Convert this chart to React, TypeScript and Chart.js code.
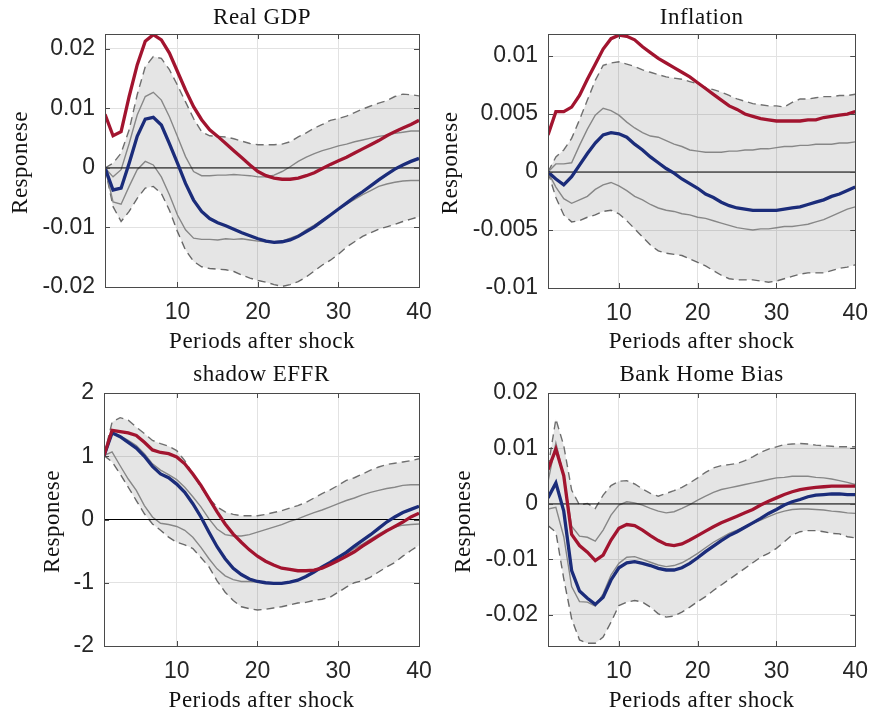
import React, { useEffect, useRef } from "react";
import { Chart, registerables } from "chart.js";

Chart.register(...registerables);

// ---------- data ----------
const periods = [
  1, 2, 3, 4, 5, 6, 7, 8, 9, 10, 11, 12, 13, 14, 15, 16, 17, 18, 19, 20,
  21, 22, 23, 24, 25, 26, 27, 28, 29, 30, 31, 32, 33, 34, 35, 36, 37, 38, 39, 40,
];
const xTicks = [10, 20, 30, 40];

// Real GDP
const gdpRed = [0.0090, 0.0054, 0.0061, 0.0120, 0.0173, 0.0213, 0.0224, 0.0215, 0.0193, 0.0162, 0.0131, 0.0103, 0.0081, 0.0064, 0.0053, 0.0041, 0.0029, 0.0017, 0.0005, -0.0006, -0.0013, -0.0017, -0.0019, -0.0019, -0.0017, -0.0013, -0.0008, -0.0001, 0.0006, 0.0012, 0.0018, 0.0025, 0.0032, 0.0039, 0.0046, 0.0054, 0.0061, 0.0067, 0.0073, 0.0080];
const gdpBlue = [0, -0.0037, -0.0034, 0.0008, 0.0053, 0.0082, 0.0085, 0.0072, 0.0041, 0.0008, -0.0026, -0.0054, -0.0073, -0.0085, -0.0092, -0.0097, -0.0103, -0.0109, -0.0114, -0.0119, -0.0123, -0.0125, -0.0124, -0.0121, -0.0115, -0.0107, -0.0099, -0.0089, -0.0079, -0.0069, -0.0059, -0.0049, -0.0040, -0.0030, -0.0020, -0.0011, -0.0002, 0.0005, 0.0011, 0.0016];
const gdpHi90 = [0, 0.0008, 0.0025, 0.0064, 0.0123, 0.0170, 0.0187, 0.0184, 0.0165, 0.0139, 0.0111, 0.0083, 0.0061, 0.0054, 0.0053, 0.0052, 0.0049, 0.0045, 0.0041, 0.0039, 0.0039, 0.0039, 0.0040, 0.0044, 0.0052, 0.0059, 0.0067, 0.0073, 0.0080, 0.0083, 0.0087, 0.0093, 0.0099, 0.0104, 0.0109, 0.0113, 0.0120, 0.0124, 0.0123, 0.0121];
const gdpHi68 = [0, -0.0015, -0.0003, 0.0041, 0.0089, 0.0120, 0.0127, 0.0114, 0.0086, 0.0053, 0.0019, -0.0006, -0.0013, -0.0013, -0.0012, -0.0012, -0.0011, -0.0012, -0.0013, -0.0015, -0.0015, -0.0012, -0.0006, 0.0002, 0.0011, 0.0018, 0.0024, 0.0029, 0.0033, 0.0037, 0.0040, 0.0044, 0.0047, 0.0050, 0.0053, 0.0055, 0.0058, 0.0060, 0.0062, 0.0062];
const gdpLo68 = [0, -0.0057, -0.0061, -0.0031, -0.0003, 0.0011, 0.0005, -0.0015, -0.0045, -0.0079, -0.0104, -0.0118, -0.0120, -0.0120, -0.0121, -0.0119, -0.0120, -0.0119, -0.0121, -0.0123, -0.0124, -0.0124, -0.0123, -0.0118, -0.0113, -0.0104, -0.0096, -0.0087, -0.0079, -0.0069, -0.0061, -0.0053, -0.0045, -0.0038, -0.0031, -0.0027, -0.0024, -0.0022, -0.0021, -0.0021];
const gdpLo90 = [0, -0.0065, -0.0090, -0.0073, -0.0051, -0.0034, -0.0031, -0.0043, -0.0071, -0.0107, -0.0138, -0.0157, -0.0166, -0.0169, -0.0170, -0.0171, -0.0174, -0.0180, -0.0185, -0.0189, -0.0192, -0.0196, -0.0199, -0.0196, -0.0191, -0.0183, -0.0173, -0.0163, -0.0155, -0.0145, -0.0133, -0.0124, -0.0115, -0.0109, -0.0103, -0.0099, -0.0095, -0.0090, -0.0086, -0.0082];
const gdpTicks = [-0.02, -0.01, 0, 0.01, 0.02];
const gdpTickLabels = ["-0.02", "-0.01", "0", "0.01", "0.02"];

// Inflation
const infRed = [0.0032, 0.0052, 0.0052, 0.0056, 0.0066, 0.0080, 0.0093, 0.0106, 0.0115, 0.0118, 0.0117, 0.0114, 0.0108, 0.0103, 0.0098, 0.0094, 0.0090, 0.0086, 0.0082, 0.0077, 0.0072, 0.0067, 0.0062, 0.0057, 0.0054, 0.0050, 0.0048, 0.0046, 0.0045, 0.0044, 0.0044, 0.0044, 0.0044, 0.0045, 0.0045, 0.0047, 0.0048, 0.0049, 0.0050, 0.0052];
const infBlue = [0, -0.0006, -0.0011, -0.0004, 0.0006, 0.0016, 0.0025, 0.0032, 0.0034, 0.0033, 0.0030, 0.0024, 0.0019, 0.0013, 0.0008, 0.0003, -0.0001, -0.0006, -0.0010, -0.0014, -0.0019, -0.0022, -0.0026, -0.0029, -0.0031, -0.0032, -0.0033, -0.0033, -0.0033, -0.0033, -0.0032, -0.0031, -0.0030, -0.0028, -0.0026, -0.0024, -0.0021, -0.0019, -0.0016, -0.0013];
const infHi90 = [0, 0.0013, 0.0019, 0.0029, 0.0045, 0.0062, 0.0079, 0.0092, 0.0094, 0.0095, 0.0093, 0.0091, 0.0088, 0.0086, 0.0084, 0.0082, 0.0081, 0.0080, 0.0078, 0.0076, 0.0073, 0.0071, 0.0069, 0.0066, 0.0063, 0.0061, 0.0059, 0.0058, 0.0057, 0.0057, 0.0056, 0.0060, 0.0063, 0.0063, 0.0064, 0.0065, 0.0065, 0.0066, 0.0066, 0.0067];
const infHi68 = [0, 0.0007, 0.0007, 0.0008, 0.0023, 0.0037, 0.0049, 0.0055, 0.0053, 0.0049, 0.0043, 0.0038, 0.0034, 0.0031, 0.0030, 0.0027, 0.0024, 0.0022, 0.0019, 0.0018, 0.0017, 0.0017, 0.0017, 0.0018, 0.0018, 0.0019, 0.0019, 0.0020, 0.0020, 0.0021, 0.0022, 0.0022, 0.0023, 0.0023, 0.0024, 0.0024, 0.0024, 0.0025, 0.0025, 0.0026];
const infLo68 = [0, -0.0013, -0.0023, -0.0027, -0.0024, -0.0021, -0.0015, -0.0011, -0.0009, -0.0012, -0.0016, -0.0021, -0.0024, -0.0028, -0.0031, -0.0033, -0.0034, -0.0036, -0.0037, -0.0039, -0.0040, -0.0042, -0.0044, -0.0046, -0.0048, -0.0049, -0.0050, -0.0049, -0.0049, -0.0048, -0.0047, -0.0047, -0.0046, -0.0045, -0.0043, -0.0041, -0.0038, -0.0035, -0.0032, -0.0030];
const infLo90 = [0, -0.0022, -0.0037, -0.0043, -0.0042, -0.0039, -0.0037, -0.0034, -0.0033, -0.0036, -0.0042, -0.0049, -0.0056, -0.0063, -0.0068, -0.0070, -0.0071, -0.0072, -0.0075, -0.0078, -0.0081, -0.0085, -0.0089, -0.0092, -0.0093, -0.0093, -0.0093, -0.0094, -0.0095, -0.0094, -0.0092, -0.0090, -0.0088, -0.0087, -0.0087, -0.0087, -0.0085, -0.0083, -0.0082, -0.0080];
const infTicks = [-0.01, -0.005, 0, 0.005, 0.01];
const infTickLabels = ["-0.01", "-0.005", "0", "0.005", "0.01"];

// shadow EFFR
const effrRed = [1.01, 1.41, 1.39, 1.37, 1.33, 1.22, 1.10, 1.06, 1.04, 0.99, 0.88, 0.72, 0.54, 0.33, 0.12, -0.07, -0.23, -0.36, -0.48, -0.58, -0.66, -0.72, -0.77, -0.79, -0.81, -0.81, -0.80, -0.77, -0.71, -0.65, -0.58, -0.51, -0.42, -0.34, -0.26, -0.18, -0.11, -0.04, 0.04, 0.10];
const effrBlue = [1.01, 1.37, 1.31, 1.22, 1.13, 1.00, 0.84, 0.72, 0.66, 0.56, 0.43, 0.25, 0.04, -0.20, -0.43, -0.62, -0.77, -0.87, -0.94, -0.98, -1.00, -1.01, -1.01, -0.99, -0.96, -0.90, -0.83, -0.75, -0.68, -0.60, -0.52, -0.42, -0.33, -0.24, -0.14, -0.04, 0.04, 0.11, 0.16, 0.21];
const effrHi90 = [1.01, 1.54, 1.61, 1.57, 1.46, 1.36, 1.25, 1.20, 1.16, 1.09, 0.93, 0.72, 0.51, 0.33, 0.20, 0.12, 0.08, 0.06, 0.06, 0.06, 0.08, 0.11, 0.14, 0.18, 0.22, 0.27, 0.34, 0.41, 0.47, 0.54, 0.62, 0.66, 0.72, 0.78, 0.83, 0.87, 0.89, 0.91, 0.93, 0.96];
const effrHi68 = [1.01, 1.36, 1.32, 1.25, 1.17, 1.04, 0.88, 0.78, 0.71, 0.63, 0.51, 0.36, 0.20, 0.01, -0.15, -0.24, -0.26, -0.26, -0.24, -0.20, -0.16, -0.12, -0.08, -0.03, 0.01, 0.06, 0.11, 0.15, 0.20, 0.25, 0.30, 0.34, 0.39, 0.43, 0.46, 0.49, 0.51, 0.54, 0.55, 0.55];
const effrLo68 = [1.01, 1.07, 0.85, 0.64, 0.46, 0.22, 0.04, -0.06, -0.08, -0.11, -0.17, -0.28, -0.44, -0.62, -0.78, -0.89, -0.95, -0.98, -0.98, -0.99, -1.00, -1.01, -1.00, -0.99, -0.96, -0.90, -0.83, -0.75, -0.69, -0.61, -0.54, -0.46, -0.39, -0.31, -0.23, -0.16, -0.12, -0.09, -0.08, -0.07];
const effrLo90 = [1.01, 0.91, 0.72, 0.51, 0.30, 0.09, -0.07, -0.17, -0.28, -0.36, -0.40, -0.46, -0.60, -0.75, -0.97, -1.15, -1.28, -1.38, -1.41, -1.43, -1.42, -1.40, -1.38, -1.35, -1.32, -1.31, -1.28, -1.26, -1.23, -1.15, -1.07, -1.00, -0.97, -0.91, -0.83, -0.75, -0.68, -0.58, -0.49, -0.41];
const effrTicks = [-2, -1, 0, 1, 2];
const effrTickLabels = ["-2", "-1", "0", "1", "2"];

// Bank Home Bias
const bhbRed = [0.0062, 0.0099, 0.0051, -0.0055, -0.0075, -0.0087, -0.0102, -0.0092, -0.0065, -0.0044, -0.0037, -0.0039, -0.0047, -0.0057, -0.0066, -0.0073, -0.0075, -0.0072, -0.0065, -0.0057, -0.0049, -0.0041, -0.0034, -0.0028, -0.0022, -0.0016, -0.0010, -0.0002, 0.0005, 0.0011, 0.0017, 0.0022, 0.0026, 0.0028, 0.0030, 0.0031, 0.0032, 0.0032, 0.0032, 0.0032];
const bhbBlue = [0.0011, 0.0038, -0.0013, -0.0120, -0.0157, -0.0170, -0.0181, -0.0168, -0.0137, -0.0115, -0.0106, -0.0104, -0.0107, -0.0111, -0.0116, -0.0119, -0.0119, -0.0115, -0.0107, -0.0097, -0.0086, -0.0076, -0.0066, -0.0057, -0.0050, -0.0042, -0.0034, -0.0026, -0.0017, -0.0010, -0.0002, 0.0004, 0.0008, 0.0013, 0.0016, 0.0017, 0.0018, 0.0018, 0.0017, 0.0017];
const bhbHi90 = [0.0065, 0.0153, 0.0105, 0.0025, -0.0002, 0.0001, -0.0008, 0.0016, 0.0033, 0.0041, 0.0042, 0.0036, 0.0027, 0.0019, 0.0014, 0.0019, 0.0024, 0.0030, 0.0038, 0.0047, 0.0057, 0.0065, 0.0069, 0.0071, 0.0073, 0.0078, 0.0085, 0.0093, 0.0099, 0.0103, 0.0107, 0.0108, 0.0109, 0.0108, 0.0106, 0.0105, 0.0104, 0.0103, 0.0103, 0.0103];
const bhbHi68 = [0.0040, 0.0110, 0.0050, -0.0040, -0.0058, -0.0060, -0.0067, -0.0047, -0.0020, -0.0002, 0.0004, 0.0002, -0.0002, -0.0008, -0.0013, -0.0016, -0.0014, -0.0008, -0.0001, 0.0007, 0.0014, 0.0021, 0.0026, 0.0029, 0.0032, 0.0035, 0.0038, 0.0041, 0.0044, 0.0047, 0.0048, 0.0050, 0.0050, 0.0050, 0.0048, 0.0047, 0.0045, 0.0042, 0.0039, 0.0035];
const bhbLo68 = [-0.0009, -0.0006, -0.0059, -0.0149, -0.0176, -0.0177, -0.0184, -0.0162, -0.0128, -0.0107, -0.0096, -0.0095, -0.0100, -0.0105, -0.0110, -0.0113, -0.0111, -0.0106, -0.0098, -0.0089, -0.0079, -0.0069, -0.0061, -0.0053, -0.0047, -0.0041, -0.0035, -0.0029, -0.0023, -0.0017, -0.0013, -0.0010, -0.0009, -0.0009, -0.0010, -0.0011, -0.0013, -0.0014, -0.0016, -0.0017];
const bhbLo90 = [-0.0039, -0.0051, -0.0135, -0.0207, -0.0245, -0.0251, -0.0251, -0.0240, -0.0213, -0.0183, -0.0177, -0.0174, -0.0177, -0.0186, -0.0198, -0.0204, -0.0202, -0.0195, -0.0186, -0.0176, -0.0167, -0.0156, -0.0146, -0.0136, -0.0126, -0.0116, -0.0106, -0.0096, -0.0089, -0.0080, -0.0068, -0.0056, -0.0050, -0.0048, -0.0048, -0.0050, -0.0053, -0.0054, -0.0059, -0.0061];
const bhbTicks = [-0.02, -0.01, 0, 0.01, 0.02];
const bhbTickLabels = ["-0.02", "-0.01", "0", "0.01", "0.02"];

// ---------- styling / layout ----------
const PAGE_W = 880;
const PAGE_H = 715;
const Y_AXIS_W = 100;
const X_AXIS_H = 40;

const RED = "#a2142f";
const BLUE = "#1b2c7a";
const BAND = "rgba(0,0,0,0.10)";
const INNER = "#878787";
const OUTER = "#6f6f6f";
const GRID = "#e2e2e2";
const FRAME = "#4a4a4a";
const TEXT = "#262626";
const SERIF = '"Liberation Serif", "Times New Roman", serif';
const SANS = '"Liberation Sans", Arial, sans-serif';

type PanelSpec = {
  title: string;
  yMin: number;
  yMax: number;
  yTicks: number[];
  yTickLabels: string[];
  red: number[];
  blue: number[];
  hi90: number[];
  hi68: number[];
  lo68: number[];
  lo90: number[];
  area: { left: number; top: number; right: number; bottom: number };
  yLabelX: number;
  titleY: number;
  xLabelY: number;
};

const panels: PanelSpec[] = [
  {
    title: "Real GDP",
    yMin: -0.02, yMax: 0.0225,
    yTicks: gdpTicks, yTickLabels: gdpTickLabels,
    red: gdpRed, blue: gdpBlue, hi90: gdpHi90, hi68: gdpHi68, lo68: gdpLo68, lo90: gdpLo90,
    area: { left: 105, top: 34, right: 419, bottom: 287 },
    yLabelX: 27, titleY: 23.5, xLabelY: 348,
  },
  {
    title: "Inflation",
    yMin: -0.01, yMax: 0.0119,
    yTicks: infTicks, yTickLabels: infTickLabels,
    red: infRed, blue: infBlue, hi90: infHi90, hi68: infHi68, lo68: infLo68, lo90: infLo90,
    area: { left: 548, top: 34, right: 863, bottom: 288 },
    yLabelX: 457, titleY: 23.5, xLabelY: 348,
  },
  {
    title: "shadow EFFR",
    yMin: -2, yMax: 2,
    yTicks: effrTicks, yTickLabels: effrTickLabels,
    red: effrRed, blue: effrBlue, hi90: effrHi90, hi68: effrHi68, lo68: effrLo68, lo90: effrLo90,
    area: { left: 104, top: 393, right: 419, bottom: 646 },
    yLabelX: 59, titleY: 381, xLabelY: 707,
  },
  {
    title: "Bank Home Bias",
    yMin: -0.0256, yMax: 0.02,
    yTicks: bhbTicks, yTickLabels: bhbTickLabels,
    red: bhbRed, blue: bhbBlue, hi90: bhbHi90, hi68: bhbHi68, lo68: bhbLo68, lo90: bhbLo90,
    area: { left: 548, top: 393, right: 863, bottom: 646 },
    yLabelX: 470, titleY: 381, xLabelY: 707,
  },
];

const toPoints = (values: number[]) => values.map((y, i) => ({ x: periods[i], y }));

// Frame, inward tick marks and the serif labels around each axes box
const framePlugin = {
  id: "frameAndLabels",
  afterDraw(chart: any, _args: any, opts: any) {
    const spec: PanelSpec = opts.spec;
    const { ctx, chartArea } = chart;
    const { left, right, top, bottom } = chartArea;
    const xs = chart.scales.x;
    const ys = chart.scales.y;
    const tickLen = 5;
    ctx.save();
    ctx.strokeStyle = FRAME;
    ctx.lineWidth = 1;
    ctx.beginPath();
    for (const v of xTicks) {
      const px = Math.round(xs.getPixelForValue(v)) + 0.5;
      ctx.moveTo(px, bottom);
      ctx.lineTo(px, bottom - tickLen);
      ctx.moveTo(px, top);
      ctx.lineTo(px, top + tickLen);
    }
    for (const v of spec.yTicks) {
      const py = Math.round(ys.getPixelForValue(v)) + 0.5;
      ctx.moveTo(left, py);
      ctx.lineTo(left + tickLen, py);
      ctx.moveTo(right, py);
      ctx.lineTo(right - tickLen, py);
    }
    ctx.stroke();
    ctx.strokeRect(Math.round(left) + 0.5, Math.round(top) + 0.5, Math.round(right - left), Math.round(bottom - top));

    ctx.fillStyle = "#111";
    ctx.font = `23px ${SERIF}`;
    try { (ctx as any).letterSpacing = "0.5px"; } catch (e) { /* older canvas */ }
    ctx.textAlign = "center";
    ctx.textBaseline = "alphabetic";
    const cx = (left + right) / 2;
    ctx.fillText(spec.title, cx, spec.titleY);
    ctx.fillText("Periods after shock", cx, spec.xLabelY);
    ctx.translate(spec.yLabelX, (top + bottom) / 2 + 2);
    ctx.rotate(-Math.PI / 2);
    ctx.fillText("Responese", 0, 0);
    ctx.restore();
  },
};

function PanelChart({ spec }: { spec: PanelSpec }) {
  const ref = useRef<HTMLCanvasElement | null>(null);
  useEffect(() => {
    if (!ref.current) return;
    const a = spec.area;
    const line = (data: number[], color: string, width: number, extra: any = {}) => ({
      data: toPoints(data),
      borderColor: color,
      borderWidth: width,
      pointRadius: 0,
      tension: 0,
      fill: false,
      ...extra,
    });
    const chart = new Chart(ref.current, {
      type: "line",
      data: {
        datasets: [
          line(spec.red, RED, 3.3),
          line(spec.blue, BLUE, 3.3),
          line([0, 0], "#000", 1, { data: [{ x: periods[0], y: 0 }, { x: periods[periods.length - 1], y: 0 }] }),
          line(spec.hi68, INNER, 1.4),
          line(spec.lo68, INNER, 1.4),
          line(spec.hi90, OUTER, 1.4, { borderDash: [8, 5], fill: "+1", backgroundColor: BAND }),
          line(spec.lo90, OUTER, 1.4, { borderDash: [8, 5] }),
        ],
      },
      options: {
        animation: false,
        responsive: false,
        devicePixelRatio: 1,
        events: [],
        layout: {
          padding: {
            left: a.left - Y_AXIS_W,
            right: PAGE_W - a.right,
            top: a.top,
            bottom: PAGE_H - a.bottom - X_AXIS_H,
          },
        },
        plugins: {
          legend: { display: false },
          tooltip: { enabled: false },
          title: { display: false },
          frameAndLabels: { spec },
        } as any,
        scales: {
          x: {
            type: "linear",
            min: 1,
            max: 40,
            afterBuildTicks: (s: any) => { s.ticks = xTicks.map((v) => ({ value: v })); },
            afterFit: (s: any) => { s.height = X_AXIS_H; },
            grid: { color: GRID, drawTicks: false, lineWidth: 1 },
            border: { display: false },
            ticks: {
              font: { family: SANS, size: 23 },
              color: TEXT,
              padding: 12,
              maxRotation: 0,
              autoSkip: false,
              callback: (v: any) => String(v),
            },
          },
          y: {
            type: "linear",
            min: spec.yMin,
            max: spec.yMax,
            afterBuildTicks: (s: any) => { s.ticks = spec.yTicks.map((v) => ({ value: v })); },
            afterFit: (s: any) => { s.width = Y_AXIS_W; },
            grid: { color: GRID, drawTicks: false, lineWidth: 1 },
            border: { display: false },
            ticks: {
              font: { family: SANS, size: 23 },
              color: TEXT,
              padding: 10,
              autoSkip: false,
              callback: (v: any) => {
                const i = spec.yTicks.indexOf(v);
                return i >= 0 ? spec.yTickLabels[i] : "";
              },
            },
          },
        },
      } as any,
      plugins: [framePlugin],
    });
    return () => chart.destroy();
  }, [spec]);
  return (
    <canvas
      ref={ref}
      width={PAGE_W}
      height={PAGE_H}
      style={{ position: "absolute", left: 0, top: 0, width: PAGE_W, height: PAGE_H }}
    />
  );
}

export default function App() {
  return (
    <div style={{ position: "absolute", left: 0, top: 0, width: PAGE_W, height: PAGE_H, background: "#fff" }}>
      {panels.map((p) => (
        <PanelChart key={p.title} spec={p} />
      ))}
    </div>
  );
}
